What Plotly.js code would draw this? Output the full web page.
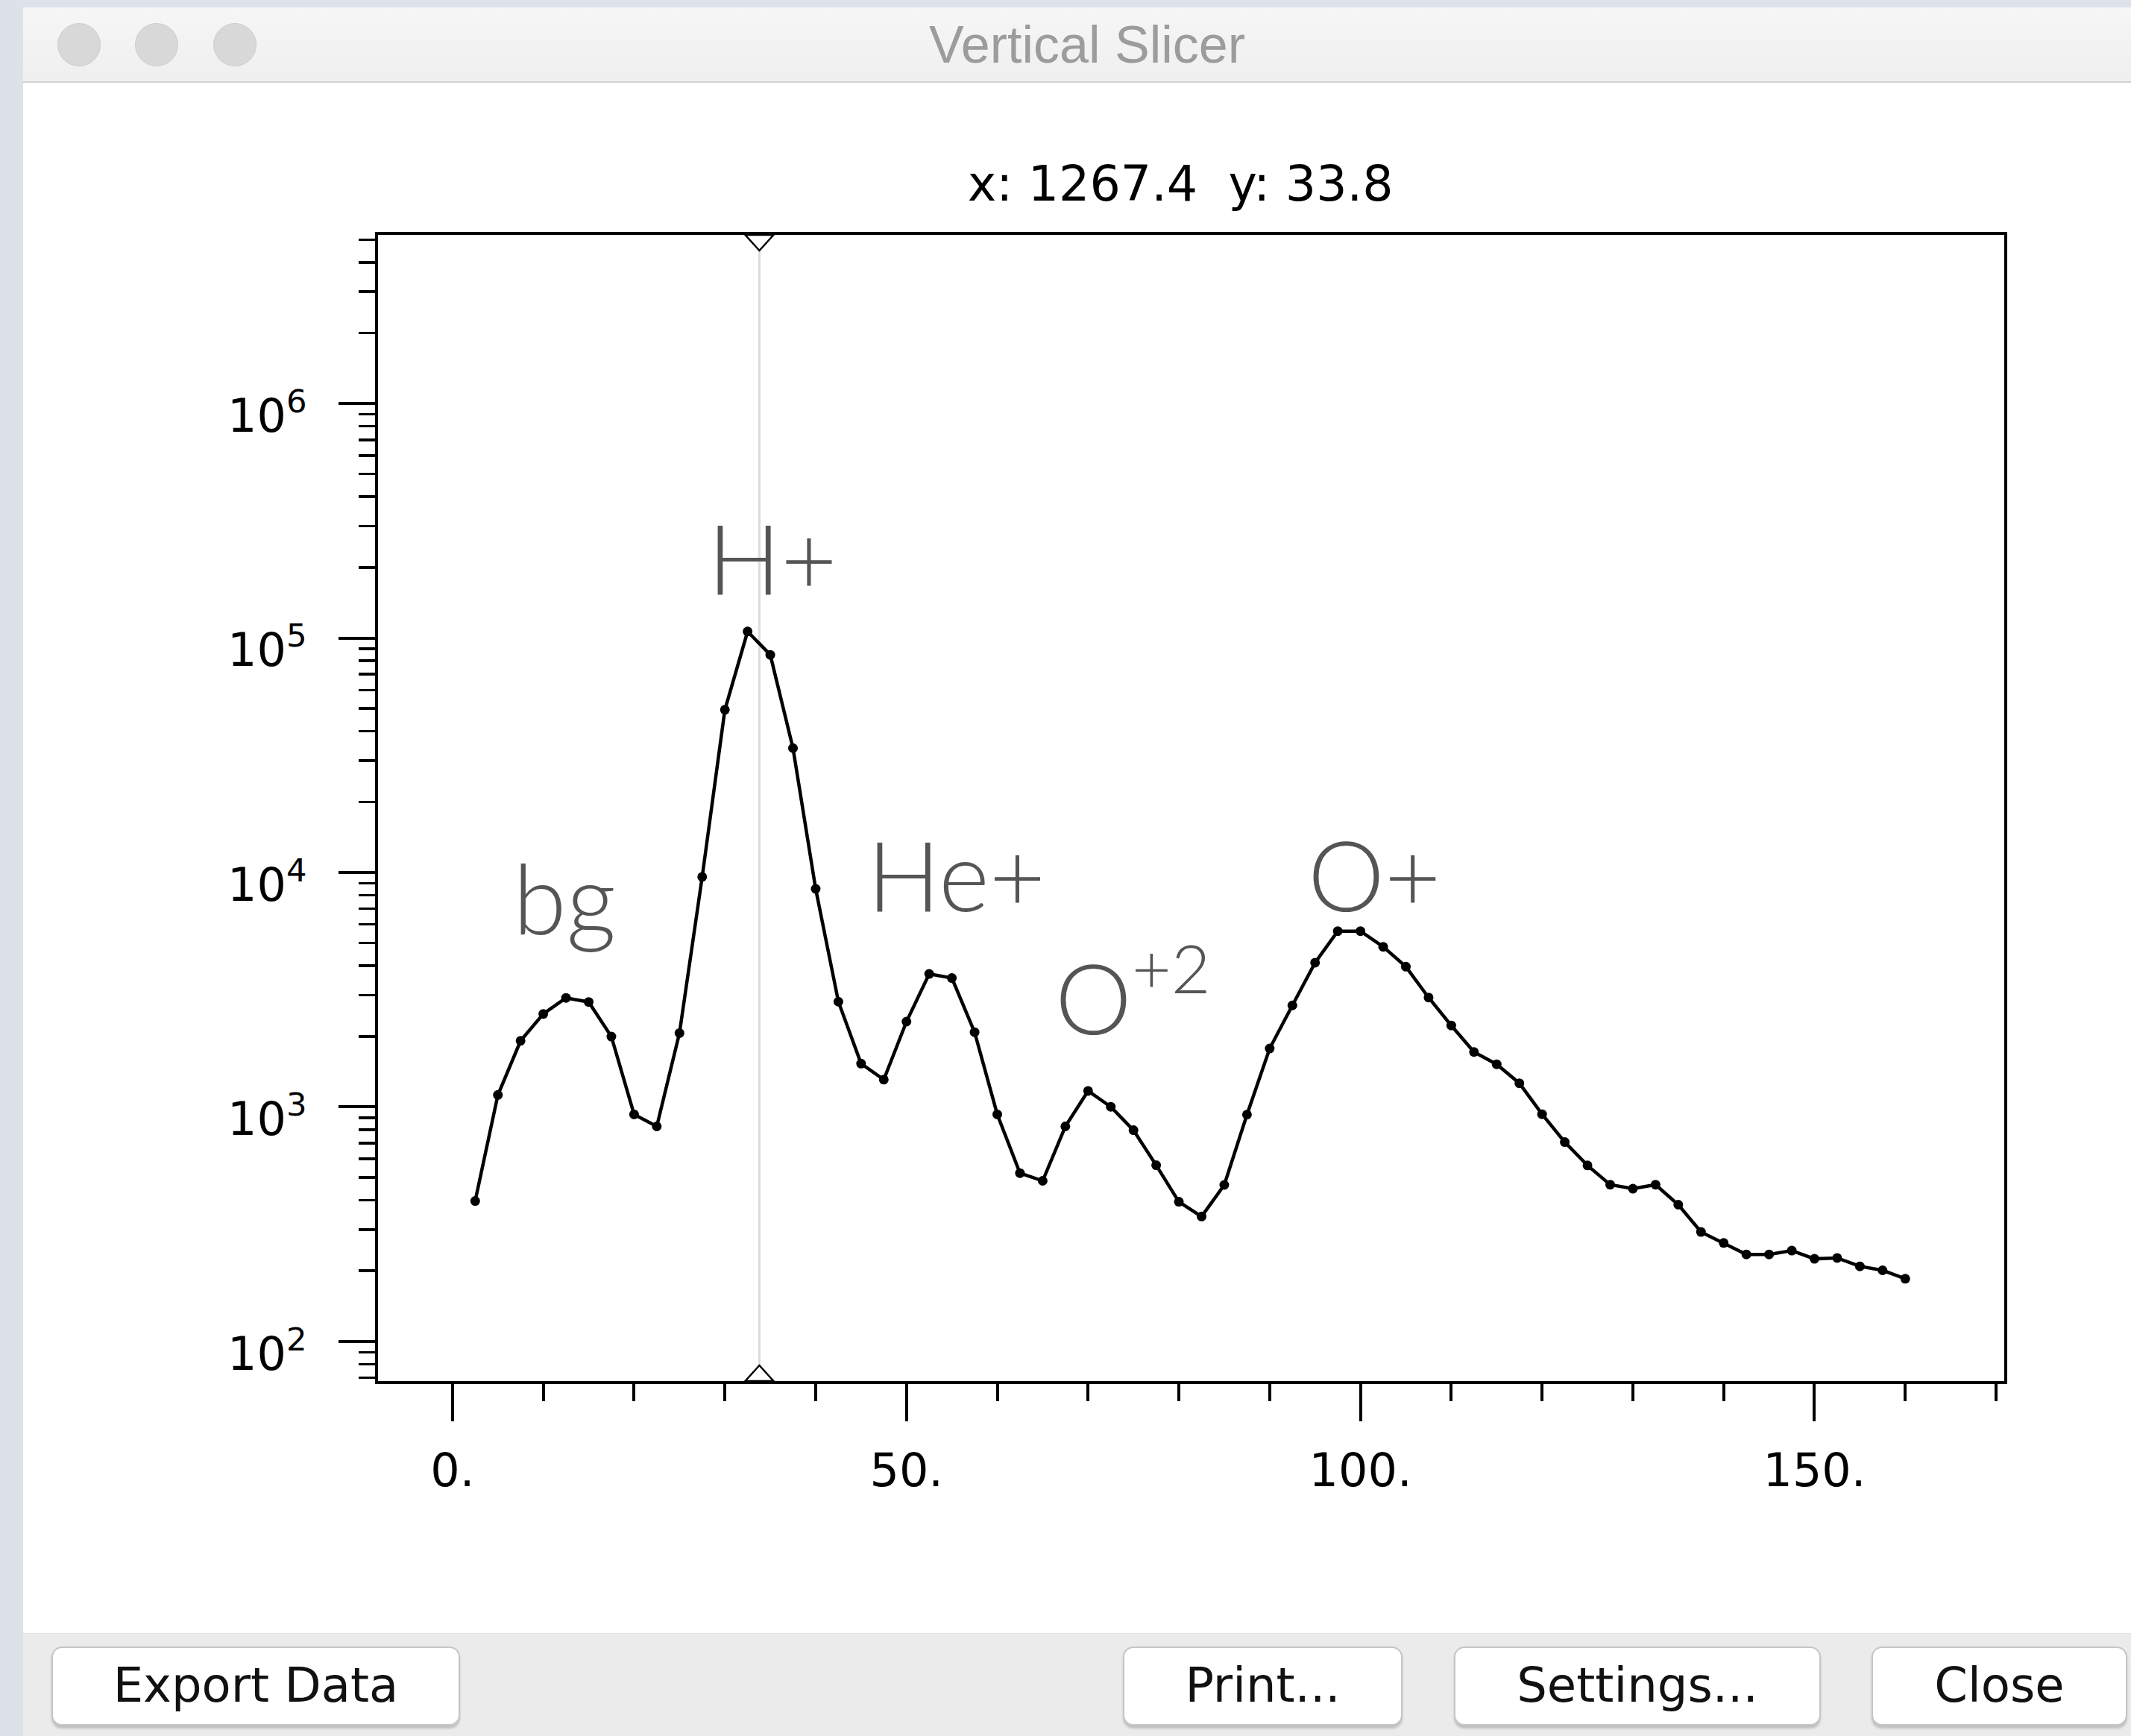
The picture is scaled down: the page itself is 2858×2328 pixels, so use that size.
<!DOCTYPE html>
<html>
<head>
<meta charset="utf-8">
<script src="https://cdn.plot.ly/plotly-3.0.1.min.js"></script>
<style>
  html, body { margin:0; padding:0; width:2858px; height:2328px; overflow:hidden; background:#dde2e8; }
  .abs { position:absolute; box-sizing:border-box; }
  #win { left:31px; top:10px; width:2827px; height:2318px; background:#ffffff; z-index:0; }
  #titlebar { left:31px; top:10px; width:2827px; height:101px; background:linear-gradient(#f6f6f6,#efefef); border-bottom:2px solid #d2d2d2; z-index:1; }
  .light { width:58px; height:58px; border-radius:50%; background:#d8d8d8; border:1px solid #cdcdcd; top:31px; z-index:2; }
  #wtitle { left:31px; top:10px; width:2854px; height:100px; line-height:100px; text-align:center; font-family:"Liberation Sans", Arial, sans-serif; font-size:70px; color:#9c9c9c; z-index:2; }
  #bottombar { left:31px; top:2190px; width:2827px; height:138px; background:#ebebeb; border-top:1px solid #e2e2e2; z-index:1; }
  .btn { top:2208px; height:106px; background:#ffffff; border:2px solid #c6c6c6; border-radius:14px; box-shadow:0 4px 3px rgba(0,0,0,0.18); font-family:"DejaVu Sans", sans-serif; font-size:64px; color:#111; text-align:center; line-height:100px; z-index:2; }
  #chart { position:absolute; left:0; top:0; width:2858px; height:2328px; z-index:3; }
</style>
</head>
<body>
<div class="abs" id="win"></div>
<div class="abs" id="titlebar"></div>
<div class="abs light" style="left:77px"></div>
<div class="abs light" style="left:181px"></div>
<div class="abs light" style="left:286px"></div>
<div class="abs" id="wtitle">Vertical Slicer</div>
<div class="abs" id="bottombar"></div>
<div class="abs btn" style="left:69px; width:548px;">Export Data</div>
<div class="abs btn" style="left:1506px; width:375px;">Print...</div>
<div class="abs btn" style="left:1950px; width:492px;">Settings...</div>
<div class="abs btn" style="left:2510px; width:343px;">Close</div>
<div id="chart"></div>
<script>
// ---- data ----
const energy = [2.5, 5, 7.5, 10, 12.5, 15, 17.5, 20, 22.5, 25, 27.5, 30, 32.5, 35, 37.5, 40,
  42.5, 45, 47.5, 50, 52.5, 55, 57.5, 60, 62.5, 65, 67.5, 70, 72.5, 75, 77.5, 80,
  82.5, 85, 87.5, 90, 92.5, 95, 97.5, 100, 102.5, 105, 107.5, 110, 112.5, 115, 117.5, 120,
  122.5, 125, 127.5, 130, 132.5, 135, 137.5, 140, 142.5, 145, 147.5, 150, 152.5, 155, 157.5, 160];
const counts = [397, 1125, 1914, 2493, 2917, 2803, 1995, 929, 826, 2065, 9570, 49400, 106600, 84700, 33900, 8510,
  2812, 1530, 1307, 2311, 3690, 3546, 2083, 929, 522, 484, 826, 1170, 1002, 796, 564, 394,
  341, 465, 927, 1775, 2710, 4125, 5620, 5620, 4820, 3965, 2928, 2225, 1715, 1521, 1262, 931,
  708, 563, 466, 448, 466, 383, 293, 263, 235, 235, 244, 225, 227, 209, 201, 185];

const readoutX = 1267.4;
const readoutY = 33.8;
const sliceX = readoutY;

const xTickVals = [0, 50, 100, 150];
const xTickText = ['0.', '50.', '100.', '150.'];
const yTickVals = [1e2, 1e3, 1e4, 1e5, 1e6];
const yTickText = ['10<sup>2</sup>', '10<sup>3</sup>', '10<sup>4</sup>', '10<sup>5</sup>', '10<sup>6</sup>'];

const peakLabels = ['bg', 'H+', 'He+', 'O<sup>+2</sup>', 'O+'];
const peakLabelX = [12.3, 35.2, 55.5, 74.9, 101.5];
const peakLabelLogY = [3.895, 5.345, 3.994, 3.495, 3.994];

const xRange = [-8.2, 170.9];
const yLogRange = [1.831, 6.719];

// ---- figure ----
const trace = {
  x: energy, y: counts, type: 'scatter', mode: 'lines+markers',
  line: { color: '#000', width: 4.5 },
  marker: { color: '#000', size: 13, symbol: 'circle' },
  hoverinfo: 'skip', showlegend: false
};

const annotations = peakLabels.map((t, i) => ({
  text: t, x: peakLabelX[i], y: peakLabelLogY[i], xref: 'x', yref: 'y',
  showarrow: false, xanchor: 'center', yanchor: 'middle',
  font: { family: 'Lato, "Noto Sans", sans-serif', size: 130, color: '#555555', weight: 300 }
}));

const layout = {
  width: 2858, height: 2328,
  margin: { l: 507, r: 170, t: 315, b: 476, pad: 0 },
  paper_bgcolor: 'rgba(0,0,0,0)', plot_bgcolor: '#ffffff',
  font: { family: '"DejaVu Sans", sans-serif', color: '#000' },
  showlegend: false,
  title: {
    text: 'x: ' + readoutX.toFixed(1) + '\u00a0 y: ' + readoutY.toFixed(1),
    font: { family: '"DejaVu Sans", sans-serif', size: 65, color: '#000' },
    x: 0.4934, xref: 'paper', xanchor: 'center',
    y: 1 - 246 / 2328, yref: 'container', yanchor: 'middle'
  },
  xaxis: {
    range: xRange, showgrid: false, zeroline: false,
    showline: true, linecolor: '#000', linewidth: 4, mirror: true,
    ticks: 'outside', ticklen: 50, tickwidth: 4, tickcolor: '#000',
    tickmode: 'array', tickvals: xTickVals, ticktext: xTickText,
    tickfont: { size: 62, color: '#000' }, ticklabelstandoff: 13,
    minor: { tickmode: 'linear', tick0: 0, dtick: 10, ticks: 'outside', ticklen: 23, tickwidth: 4, tickcolor: '#000', showgrid: false }
  },
  yaxis: {
    type: 'log', range: yLogRange, showgrid: false, zeroline: false,
    showline: true, linecolor: '#000', linewidth: 4, mirror: true,
    ticks: 'outside', ticklen: 49, tickwidth: 4, tickcolor: '#000',
    tickmode: 'array', tickvals: yTickVals, ticktext: yTickText,
    tickfont: { size: 62, color: '#000' }, ticklabelstandoff: 30, ticklabelshift: 16,
    minor: { dtick: 'D1', ticks: 'outside', ticklen: 22, tickwidth: 3.5, tickcolor: '#000', showgrid: false }
  },
  shapes: [
    { type: 'line', xref: 'x', yref: 'paper', x0: sliceX, x1: sliceX, y0: 0, y1: 1,
      line: { color: '#dcdcdc', width: 3 }, layer: 'below' },
    { type: 'path', xref: 'x', yref: 'paper', xsizemode: 'pixel', ysizemode: 'pixel',
      xanchor: sliceX, yanchor: 1, path: 'M -19 0 L 19 0 L 0 -21 Z',
      line: { color: '#000', width: 2.5 }, fillcolor: '#fff', layer: 'above' },
    { type: 'path', xref: 'x', yref: 'paper', xsizemode: 'pixel', ysizemode: 'pixel',
      xanchor: sliceX, yanchor: 0, path: 'M -19 0 L 19 0 L 0 21 Z',
      line: { color: '#000', width: 2.5 }, fillcolor: '#fff', layer: 'above' }
  ],
  annotations: annotations
};

Plotly.newPlot('chart', [trace], layout, { displayModeBar: false, staticPlot: true });
</script>
</body>
</html>
